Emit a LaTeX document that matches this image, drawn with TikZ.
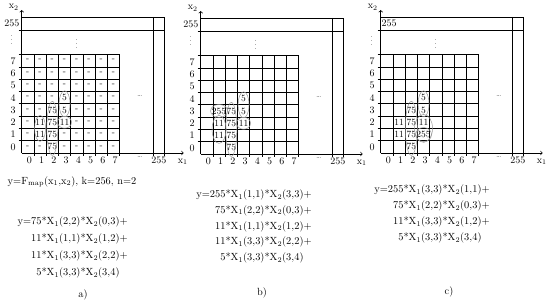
\documentclass[tikz,border=0pt]{standalone}
\usepackage{tikz}
\usetikzlibrary{calc}
\newcommand{\cw}{12.25}
\newcommand{\ch}{12.3}
\newcommand{\Xs}[1]{X\textsubscript{#1}}

\tikzset{
  cell/.style={font=\fontsize{9.5}{10}\selectfont,inner sep=0pt},
  lbl/.style={font=\fontsize{10}{11}\selectfont,inner sep=0pt},
  dots/.style={font=\scriptsize,inner sep=0pt},
  circ/.style={gray!80,line width=0.5pt},
  formula/.style={font=\fontsize{10.4}{16}\selectfont,align=right,inner sep=0pt},
}

\begin{document}
\begin{tikzpicture}[x=1pt,y=1pt,line width=0.7pt]
  \useasboundingbox (0,0) rectangle (550,-304);
  % frame, grid and axes of the three panels
  \foreach \ox/\oy/\p in {21.7/-153/a, 200.7/-154/b, 380.7/-153/c} {
    \begin{scope}[shift={(\ox,\oy)}]
      \coordinate (o\p) at (0,0);
      % axes
      \draw[->] (0,0) -- (0,143);
      \draw[->] (0,0) -- (162,0);
      \node[lbl] (x2\p) at (-8,145.5) {x\textsubscript{2}};
      \node[lbl] (x1\p) at (161,-9) {x\textsubscript{1}};
      % outer field up to 255
      \draw (0,136) -- (143,136) -- (143,-3);
      \draw (-3,123) -- (143,123);
      \draw (131.5,136) -- (131.5,-3);
      % grid 8x8
      \foreach \k in {1,...,8} {
        \draw (\k*\cw,98.4) -- (\k*\cw,-3);
        \draw (-3,\k*\ch) -- (98,\k*\ch);
      }
      \foreach \k in {0,...,7} {
        \node[lbl] (xl\p\k) at ({(\k+0.5)*\cw+1.5},-7.5) {\k};
        \node[lbl] (yl\p\k) at (-8.5,{(\k+0.5)*\ch}) {\k};
      }
      \node[lbl] (x255\p) at (137.2,-7.5) {255};
      \node[dots] (xd\p) at (118,-4) {\dots};
      \node[dots] (hd\p) at (118,57) {\dots};
      \node[dots] (vd\p) at (55,112) {$\vdots$};
    \end{scope}
  }
  % row 255 labels
  \node[lbl,anchor=east] (y255a) at ($(oa)+(-2,130)$) {255};
  \node[dots] (yda) at ($(oa)+(-10,116)$) {$\vdots$};
  \node[lbl,anchor=east] (y255b) at ($(ob)+(-2,130)$) {255};
  \node[dots] (ydb) at ($(ob)+(-10,116)$) {$\vdots$};
  \node[lbl,anchor=west] (y255c) at ($(oc)+(0.5,130)$) {255};
  \node[dots] (ydc) at ($(oc)+(-9,115)$) {$\vdots$};

  % panel a) cells
  \begin{scope}[shift={(oa)}]
    \foreach \row [count=\j from 0] in {{-,-,75,-,-,-,-,-},{-,11,75,-,-,-,-,-},
        {-,11,75,11,-,-,-,-},{-,-,75,5,-,-,-,-},{-,-,-,5,-,-,-,-},
        {-,-,-,-,-,-,-,-},{-,-,-,-,-,-,-,-},{-,-,-,-,-,-,-,-}}
      \foreach \v [count=\i from 0] in \row
        \node[cell] (a-\i-\j) at ({(\i+0.5)*\cw},{(\j+0.5)*\ch}) {\v};
    \draw[circ] ({2.5*\cw},{2*\ch}) ellipse (5.5 and 27);
    \draw[circ] ({1.5*\cw},{2*\ch}) ellipse (5.5 and 13);
    \draw[circ] ({3.5*\cw},{4*\ch}) ellipse (5.5 and 13);
    \draw[circ] ({3.5*\cw},{2.5*\ch}) ellipse (7 and 6);
  \end{scope}
  \node[font=\fontsize{10.4}{16}\selectfont] (capa) at (72,-182)
    {y=F\textsubscript{map}(x\textsubscript{1},x\textsubscript{2}), k=256, n=2};
  \node[formula,font=\fontsize{10.4}{17}\selectfont,anchor=east] (fa) at (128,-247.5)
    {y=75*\Xs{1}(2,2)*\Xs{2}(0,3)+\\
     11*\Xs{1}(1,1)*\Xs{2}(1,2)+\\
     11*\Xs{1}(3,3)*\Xs{2}(2,2)+\\
     5*\Xs{1}(3,3)*\Xs{2}(3,4)\phantom{+}};
  \node[font=\fontsize{10.4}{16}\selectfont] (tagA) at (83,-295) {a)};

  % panel b) cells
  \begin{scope}[shift={(ob)}]
    \foreach \i/\j/\v in {2/0/75, 1/1/11, 2/1/75, 1/2/11, 2/2/75, 3/2/11,
        1/3/255, 2/3/75, 3/3/5, 3/4/5}
      \node[cell] (b-\i-\j) at ({(\i+0.5)*\cw},{(\j+0.5)*\ch}) {\v};
    \draw[circ] ({2.5*\cw},{2*\ch}) ellipse (5.5 and 27);
    \draw[circ] ({1.5*\cw},{2*\ch}) ellipse (7 and 14);
    \draw[circ] ({1.5*\cw},{3.5*\ch}) ellipse (8.5 and 6.5);
    \draw[circ] ({3.5*\cw},{4*\ch}) ellipse (5.5 and 13);
    \draw[circ] ({3.5*\cw},{2.5*\ch}) ellipse (7 and 6);
  \end{scope}
  \node[formula,font=\fontsize{10.4}{15.75}\selectfont,anchor=east] (fb) at (312,-226.5)
    {y=255*\Xs{1}(1,1)*\Xs{2}(3,3)+\\
     75*\Xs{1}(2,2)*\Xs{2}(0,3)+\\
     11*\Xs{1}(1,1)*\Xs{2}(1,2)+\\
     11*\Xs{1}(3,3)*\Xs{2}(2,2)+\\
     5*\Xs{1}(3,3)*\Xs{2}(3,4)\phantom{+}};
  \node[font=\fontsize{10.4}{16}\selectfont] (tagB) at (262,-293) {b)};

  % panel c) cells
  \begin{scope}[shift={(oc)}]
    \foreach \i/\j/\v in {2/0/75, 1/1/11, 2/1/75, 3/1/255, 1/2/11, 2/2/75,
        3/2/11, 2/3/75, 3/3/5, 3/4/5}
      \node[cell] (c-\i-\j) at ({(\i+0.5)*\cw},{(\j+0.5)*\ch}) {\v};
    \draw[circ] ({2.5*\cw},{2*\ch}) ellipse (6 and 27);
    \draw[circ] ({3.5*\cw},{2*\ch}) ellipse (9 and 14);
    \draw[circ] ({3.5*\cw},{1.5*\ch}) ellipse (8 and 7);
    \draw[circ] ({3.5*\cw},{4*\ch}) ellipse (5.5 and 13);
  \end{scope}
  \node[formula,font=\fontsize{10.4}{16}\selectfont,anchor=east] (fc) at (490,-214)
    {y=255*\Xs{1}(3,3)*\Xs{2}(1,1)+\\
     75*\Xs{1}(2,2)*\Xs{2}(0,3)+\\
     11*\Xs{1}(3,3)*\Xs{2}(1,2)+\\
     5*\Xs{1}(3,3)*\Xs{2}(3,4)\phantom{+}};
  \node[font=\fontsize{10.4}{16}\selectfont] (tagC) at (449,-292) {c)};
\end{tikzpicture}
\end{document}
